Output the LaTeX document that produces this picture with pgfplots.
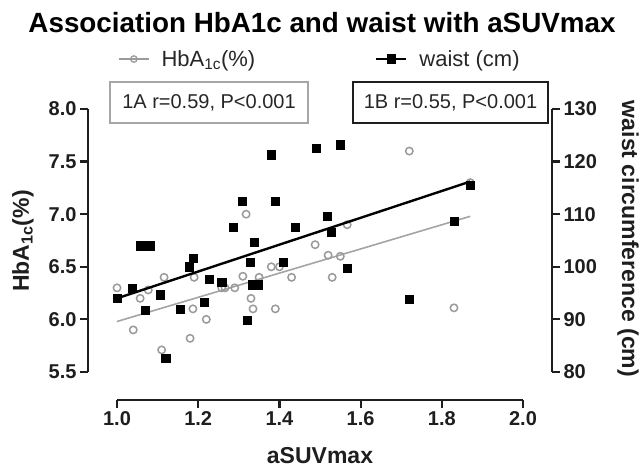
\documentclass[border=0pt]{standalone}
\usepackage{fontspec}
\setmainfont{Liberation Sans}
\usepackage{pgfplots}
\pgfplotsset{compat=1.18}
\definecolor{hbgray}{HTML}{9A9A9A}
\definecolor{axcol}{HTML}{1E1E1E}
\pgfplotsset{
  myaxis/.style={scale only axis, width=464pt, height=263pt,
    xmin=0.92857, xmax=2.07143, clip=false,
    axis line style={line width=2.2pt, color=axcol},
    major tick style={line width=2.2pt, color=axcol},
    major tick length=8pt, tick align=outside,
    tick label style={font=\fontsize{20}{24}\selectfont\bfseries, text=axcol},
    /pgf/number format/assume math mode=true,
    legend image code/.code={
      \draw[##1, mark repeat=2, mark phase=2] plot coordinates {(0pt,0pt) (15pt,0pt) (30pt,0pt)};
      \path (40pt,0pt);
    },
  }
}
\begin{document}
\begin{tikzpicture}[x=1pt,y=1pt]
\useasboundingbox (0,0) rectangle (644,470);
% title
\node[font=\fontsize{27.8}{32}\selectfont\bfseries] at (322,447) {Association HbA1c and waist with aSUVmax};
% boxes
\node[draw=black!35, line width=1.2pt, minimum width=198pt, minimum height=41pt, inner sep=0pt,
      font=\fontsize{20}{24}\selectfont, text=black!85] at (209,367.5) {1A r=0.59, P<0.001};
\node[draw=axcol, line width=1.6pt, minimum width=195pt, minimum height=41pt, inner sep=0pt,
      font=\fontsize{20}{24}\selectfont, text=black!85] at (450.5,367.5) {1B r=0.55, P<0.001};
% axis labels
\node[rotate=90, font=\fontsize{23}{27}\selectfont\bfseries, text=axcol] at (23,229) {HbA\textsubscript{1c}(\%)};
\node[rotate=-90, font=\fontsize{23}{27}\selectfont\bfseries, text=axcol] at (628,231) {waist circumference (cm)};
\node[font=\fontsize{23}{27}\selectfont\bfseries, text=axcol] at (320,14) {aSUVmax};

% HbA1c axis (left)
\begin{axis}[myaxis, at={(88pt,98pt)}, anchor=south west,
  ymin=5.5, ymax=8.0, ytick={5.5,6.0,6.5,7.0,7.5,8.0},
  axis x line=none, axis y line*=left, xtick=\empty,
  yticklabel style={/pgf/number format/.cd, fixed, fixed zerofill, precision=1},
  legend style={at={(axis description cs:0.0647,1.19)}, anchor=west, draw=none, fill=none,
    inner sep=0pt, font=\fontsize{22}{26}\selectfont, text=black!85},
]
\addlegendimage{hbgray, line width=1.3pt, mark=o, mark size=3.2pt, mark options={line width=1.3pt}}
\addlegendentry{HbA\textsubscript{1c}(\%)}
\addplot[forget plot, only marks, mark=o, mark size=3.7pt, hbgray, mark options={line width=1.5pt}] coordinates {
(1.000,6.30) (1.040,5.90) (1.057,6.20) (1.077,6.28) (1.116,6.40) (1.110,5.71)
(1.180,5.82) (1.187,6.10) (1.190,6.40) (1.220,6.00) (1.258,6.30) (1.266,6.30)
(1.290,6.30) (1.310,6.41) (1.318,7.00) (1.330,6.20) (1.335,6.10) (1.350,6.40)
(1.380,6.50) (1.390,6.10) (1.400,6.50) (1.430,6.40) (1.488,6.71) (1.520,6.61)
(1.530,6.40) (1.550,6.60) (1.567,6.90) (1.720,7.60) (1.830,6.11) (1.870,7.30)
};
\addplot[forget plot, hbgray!90, line width=1.6pt] coordinates {(1.0,5.98) (1.87,6.98)};
\end{axis}

% waist axis (right)
\begin{axis}[myaxis, at={(88pt,98pt)}, anchor=south west,
  ymin=80, ymax=130, ytick={80,90,100,110,120,130},
  axis x line=none, axis y line*=right, xtick=\empty,
  legend style={at={(axis description cs:0.6185,1.19)}, anchor=west, draw=none, fill=none,
    inner sep=0pt, font=\fontsize{22}{26}\selectfont, text=black!85},
]
\addlegendimage{black, line width=2.2pt, mark=square*, mark size=3.5pt}
\addlegendentry{waist (cm)}
\addplot[forget plot, only marks, mark=square*, mark size=4.1pt, black] coordinates {
(1.000,94.0) (1.037,96.0) (1.058,104.0) (1.070,104.0) (1.082,104.0) (1.070,91.7)
(1.106,94.7) (1.120,82.6) (1.155,91.9) (1.177,100.0) (1.187,101.7) (1.214,93.2)
(1.227,97.7) (1.258,97.0) (1.286,107.5) (1.308,112.5) (1.320,89.8) (1.328,100.8)
(1.333,96.6) (1.347,96.6) (1.337,104.7) (1.379,121.3) (1.389,112.5) (1.409,100.9)
(1.438,107.5) (1.490,122.5) (1.517,109.6) (1.527,106.6) (1.549,123.2) (1.567,99.8)
(1.720,93.8) (1.830,108.7) (1.870,115.5)
};
\addplot[forget plot, black, line width=2.4pt] coordinates {(1.0,94.0) (1.87,116.2)};
\end{axis}

% x axis (offset)
\begin{axis}[myaxis, at={(117pt,70pt)}, anchor=south west, width=406pt, height=10pt,
  xmin=1, xmax=2, ymin=0, ymax=1,
  axis y line=none, axis x line*=bottom, ytick=\empty,
  xtick={1,1.2,1.4,1.6,1.8,2},
  xticklabel style={/pgf/number format/.cd, fixed, fixed zerofill, precision=1},
]
\addplot[draw=none, forget plot] coordinates {(1,0.5)};
\end{axis}
\end{tikzpicture}
\end{document}
